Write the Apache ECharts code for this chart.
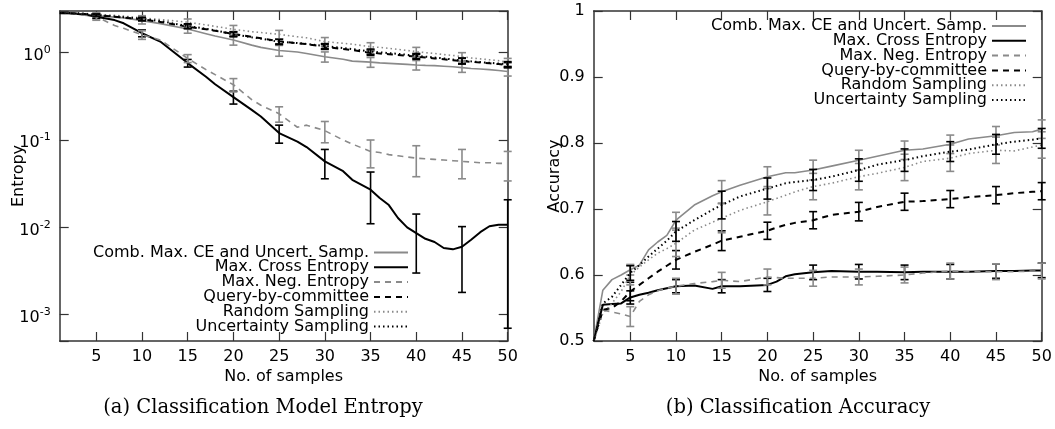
<!DOCTYPE html>
<html><head><meta charset="utf-8">
<script src="https://cdn.jsdelivr.net/npm/echarts@6/dist/echarts.min.js"></script>
<style>html,body{margin:0;padding:0;background:#fff}#c{width:1055px;height:429px}</style>
</head><body><div id="c"></div>
<script>
const NAMES = ['Comb. Max. CE and Uncert. Samp.', 'Max. Cross Entropy', 'Max. Neg. Entropy', 'Query-by-committee', 'Random Sampling', 'Uncertainty Sampling'];

// (a) Entropy
const ENT_X    = [1,2,3,4,5,7,8,10,12,15,17,18,20,22,23,25,27,28,30,32,33,35,36,37,38,39,40,41,42,43,44,45,46,47,48,49,50];
const ENT_COMB = [2.83,2.82,2.79,2.72,2.65,2.55,2.5,2.33,2.15,1.87,1.65,1.55,1.4,1.22,1.15,1.06,1.02,0.98,0.9,0.84,0.8,0.78,0.765,0.755,0.745,0.735,0.723,0.715,0.71,0.70,0.69,0.675,0.66,0.65,0.64,0.625,0.61];
const ENT_MCE  = [2.83,2.82,2.77,2.70,2.58,2.36,2.17,1.67,1.34,0.76,0.53,0.435,0.31,0.221,0.186,0.12,0.096,0.083,0.057,0.044,0.035,0.027,0.0217,0.018,0.0128,0.010,0.0086,0.0074,0.0068,0.0058,0.0056,0.006,0.0072,0.0088,0.0103,0.0107,0.0107];
const ENT_MNE  = [2.83,2.8,2.74,2.66,2.58,2.05,1.9,1.6,1.4,0.86,0.64,0.56,0.43,0.29,0.25,0.2,0.14,0.148,0.128,0.1,0.09,0.074,0.072,0.068,0.066,0.064,0.062,0.061,0.06,0.059,0.058,0.057,0.056,0.055,0.055,0.054,0.054];
const ENT_QBC  = [2.85,2.84,2.81,2.75,2.68,2.58,2.52,2.41,2.25,1.98,1.85,1.78,1.64,1.52,1.46,1.35,1.28,1.25,1.17,1.1,1.07,1.0,0.98,0.96,0.94,0.92,0.9,0.88,0.86,0.84,0.82,0.8,0.785,0.77,0.755,0.74,0.72];
const ENT_RAND = [2.87,2.86,2.84,2.8,2.75,2.68,2.62,2.5,2.4,2.23,2.08,2.0,1.85,1.74,1.7,1.62,1.52,1.48,1.34,1.28,1.25,1.17,1.15,1.12,1.09,1.06,1.03,1.0,0.98,0.95,0.93,0.9,0.87,0.85,0.83,0.81,0.78];
const ENT_UNC  = [2.85,2.84,2.82,2.77,2.7,2.6,2.55,2.44,2.3,2.02,1.88,1.8,1.62,1.5,1.45,1.33,1.29,1.26,1.19,1.13,1.1,1.03,1.01,0.99,0.97,0.945,0.92,0.9,0.88,0.86,0.835,0.81,0.795,0.78,0.765,0.75,0.74];
const ERR_X = [5,10,15,20,25,30,35,40,45,50];
const ENT_COMB_ERR = [0.15,0.2,0.2,0.18,0.15,0.12,0.1,0.09,0.08,0.07];
const ENT_MCE_ERR  = [0.12,0.15,0.076,0.052,0.028,0.021,0.016,0.0056,0.0042,0.01];
const ENT_MNE_ERR  = [0.23,0.18,0.09,0.075,0.04,0.035,0.026,0.024,0.021,0.02];
const ENT_QBC_ERR  = [0.08,0.1,0.1,0.1,0.09,0.08,0.07,0.06,0.06,0.05];
const ENT_RAND_ERR = [0.12,0.15,0.2,0.2,0.18,0.15,0.13,0.12,0.1,0.08];
const ENT_UNC_ERR  = [0.08,0.1,0.12,0.1,0.09,0.08,0.07,0.06,0.06,0.05];

// (b) Accuracy
const ACC_X    = [1,2,3,4,5,6,7,8,9,10,12,14,15,17,20,21,22,23,25,27,30,32,35,37,40,42,45,47,49,50];
const ACC_COMB = [0.5,0.577,0.593,0.600,0.608,0.615,0.638,0.650,0.660,0.683,0.706,0.720,0.726,0.736,0.749,0.752,0.755,0.755,0.759,0.765,0.774,0.780,0.789,0.791,0.798,0.806,0.811,0.816,0.817,0.821];
const ACC_MCE  = [0.5,0.555,0.556,0.557,0.566,0.570,0.573,0.577,0.580,0.583,0.584,0.579,0.583,0.583,0.585,0.590,0.598,0.601,0.604,0.606,0.605,0.605,0.604,0.605,0.605,0.605,0.606,0.606,0.607,0.607];
const ACC_MNE  = [0.5,0.547,0.544,0.541,0.537,0.560,0.570,0.576,0.580,0.583,0.587,0.590,0.592,0.590,0.597,0.596,0.595,0.595,0.595,0.597,0.597,0.598,0.600,0.603,0.606,0.605,0.605,0.605,0.606,0.606];
const ACC_QBC  = [0.5,0.547,0.550,0.560,0.575,0.585,0.595,0.605,0.614,0.623,0.635,0.646,0.652,0.658,0.667,0.672,0.676,0.679,0.683,0.691,0.696,0.703,0.711,0.712,0.715,0.718,0.721,0.724,0.726,0.727];
const ACC_RAND = [0.5,0.542,0.557,0.575,0.600,0.612,0.623,0.633,0.640,0.648,0.668,0.680,0.686,0.698,0.711,0.716,0.721,0.726,0.734,0.739,0.749,0.754,0.763,0.772,0.777,0.784,0.789,0.788,0.794,0.797];
const ACC_UNC  = [0.5,0.557,0.567,0.585,0.603,0.615,0.628,0.640,0.652,0.666,0.683,0.699,0.706,0.719,0.731,0.735,0.739,0.741,0.744,0.749,0.759,0.767,0.774,0.780,0.787,0.790,0.798,0.802,0.805,0.807];
const ACC_COMB_ERR = [0.008,0.012,0.017,0.015,0.015,0.015,0.014,0.014,0.014,0.014];
const ACC_MCE_ERR  = [0.01,0.01,0.01,0.01,0.011,0.011,0.011,0.011,0.011,0.011];
const ACC_MNE_ERR  = [0.015,0.012,0.012,0.012,0.012,0.012,0.012,0.012,0.012,0.012];
const ACC_QBC_ERR  = [0.014,0.014,0.015,0.013,0.013,0.014,0.013,0.013,0.013,0.013];
const ACC_RAND_ERR = [0.015,0.02,0.022,0.02,0.02,0.02,0.02,0.02,0.02,0.02];
const ACC_UNC_ERR  = [0.011,0.015,0.021,0.016,0.016,0.017,0.017,0.015,0.015,0.015];

const X_TICKS = [5,10,15,20,25,30,35,40,45,50];
const CAPTIONS = ['(a) Classification Model Entropy', '(b) Classification Accuracy'];
const Y_NAMES = ['Entropy', 'Accuracy'];
const X_NAME = 'No. of samples';

const GREY = '#8a8a8a', BLACK = '#000';
const STYLES = [
  {color: GREY, type: 'solid', width: 1.6},
  {color: BLACK, type: 'solid', width: 2},
  {color: GREY, type: [6, 5], width: 1.6},
  {color: BLACK, type: [6, 5], width: 2},
  {color: GREY, type: [1.5, 3], width: 1.6},
  {color: BLACK, type: [1.5, 3], width: 2}
];

const CHARTS = [
  {x: ENT_X, vals: [ENT_COMB, ENT_MCE, ENT_MNE, ENT_QBC, ENT_RAND, ENT_UNC],
   errs: [ENT_COMB_ERR, ENT_MCE_ERR, ENT_MNE_ERR, ENT_QBC_ERR, ENT_RAND_ERR, ENT_UNC_ERR]},
  {x: ACC_X, vals: [ACC_COMB, ACC_MCE, ACC_MNE, ACC_QBC, ACC_RAND, ACC_UNC],
   errs: [ACC_COMB_ERR, ACC_MCE_ERR, ACC_MNE_ERR, ACC_QBC_ERR, ACC_RAND_ERR, ACC_UNC_ERR]}
];

const FONT = 'DejaVu Sans';
const AXC = '#333';

function errRender(color, width) {
  return function (params, api) {
    const x = api.value(0), y = api.value(1), e = api.value(2);
    const lo = Math.max(y - e, 1e-4);
    const p1 = api.coord([x, y + e]), p2 = api.coord([x, lo]);
    const hw = 4;
    const st = {stroke: color, lineWidth: width};
    return {type: 'group', children: [
      {type: 'line', shape: {x1: p1[0], y1: p1[1], x2: p2[0], y2: p2[1]}, style: st},
      {type: 'line', shape: {x1: p1[0] - hw, y1: p1[1], x2: p1[0] + hw, y2: p1[1]}, style: st},
      {type: 'line', shape: {x1: p2[0] - hw, y1: p2[1], x2: p2[0] + hw, y2: p2[1]}, style: st}
    ]};
  };
}

const series = [];
CHARTS.forEach((c, ci) => {
  c.vals.forEach((v, si) => {
    const s = STYLES[si];
    series.push({
      name: NAMES[si], type: 'line', xAxisIndex: ci * 2, yAxisIndex: ci * 2,
      data: c.x.map((xx, i) => [xx, v[i]]), symbol: 'none', showSymbol: false,
      lineStyle: {color: s.color, width: s.width, type: s.type, cap: 'butt'},
      itemStyle: {color: s.color}, animation: false, z: 2 + si
    });
    series.push({
      name: NAMES[si] + ' err', type: 'custom', xAxisIndex: ci * 2, yAxisIndex: ci * 2,
      data: ERR_X.map((xx, i) => [xx, v[c.x.indexOf(xx)], c.errs[si][i]]),
      encode: {x: 0, y: 1}, renderItem: errRender(s.color, 1.6), animation: false, z: 2 + si, silent: true
    });
  });
});

const grids = [
  {left: 59.7, top: 11, width: 448, height: 330, outerBoundsMode: 'none', containLabel: false},
  {left: 593.7, top: 11, width: 448, height: 330, outerBoundsMode: 'none', containLabel: false}
];

const tickCommon = {inside: true, length: 9, lineStyle: {color: AXC, width: 1.2}};
const lineCommon = {show: true, onZero: false, lineStyle: {color: AXC, width: 1.5}};
const labelText = {color: '#000', fontSize: 16, fontFamily: FONT};

const xAxes = [];
[0, 1].forEach(gi => {
  xAxes.push({type: 'value', gridIndex: gi, min: 1, max: 50, position: 'bottom',
    axisLine: lineCommon, splitLine: {show: false},
    axisTick: Object.assign({customValues: X_TICKS}, tickCommon),
    axisLabel: Object.assign({customValues: X_TICKS, margin: 8}, labelText),
    name: X_NAME, nameLocation: 'middle', nameGap: 28, nameMoveOverlap: false, nameTextStyle: labelText});
  xAxes.push({type: 'value', gridIndex: gi, min: 1, max: 50, position: 'top',
    axisLine: lineCommon, splitLine: {show: false},
    axisTick: Object.assign({customValues: X_TICKS}, tickCommon),
    axisLabel: {show: false}});
});

const logFmt = v => {
  const e = Math.log10(v), r = Math.round(e);
  if (Math.abs(e - r) > 1e-6) return '';
  return '{b|10}{s|' + r + '}';
};

const yAxes = [
  {type: 'log', logBase: 10, gridIndex: 0, min: 0.0005, max: 3, position: 'left',
   axisLine: lineCommon, splitLine: {show: false}, minorTick: {show: false},
   axisTick: tickCommon,
   axisLabel: {formatter: logFmt, margin: 9, showMinLabel: true, showMaxLabel: true,
     rich: {b: {fontSize: 16, fontFamily: FONT, color: '#000', lineHeight: 16, padding: [6, 0, 0, 0]},
            s: {fontSize: 11, fontFamily: FONT, color: '#000', lineHeight: 11, verticalAlign: 'top'}}},
   name: Y_NAMES[0], nameLocation: 'middle', nameGap: 33, nameMoveOverlap: false, nameTextStyle: labelText},
  {type: 'log', logBase: 10, gridIndex: 0, min: 0.0005, max: 3, position: 'right',
   axisLine: lineCommon, splitLine: {show: false}, minorTick: {show: false},
   axisTick: tickCommon, axisLabel: {show: false}},
  {type: 'value', gridIndex: 1, min: 0.5, max: 1, interval: 0.1, position: 'left',
   axisLine: lineCommon, splitLine: {show: false},
   axisTick: tickCommon,
   axisLabel: Object.assign({margin: 9}, labelText),
   name: Y_NAMES[1], nameLocation: 'middle', nameGap: 31, nameMoveOverlap: false, nameTextStyle: labelText},
  {type: 'value', gridIndex: 1, min: 0.5, max: 1, interval: 0.1, position: 'right',
   axisLine: lineCommon, splitLine: {show: false},
   axisTick: tickCommon, axisLabel: {show: false}}
];

const legendCommon = {
  data: NAMES, orient: 'vertical', align: 'right', itemWidth: 34, itemHeight: 10, itemGap: -1.2,
  padding: 0, selectedMode: false, itemStyle: {opacity: 0},
  textStyle: {fontSize: 16, fontFamily: FONT, color: '#000'}
};

const option = {
  backgroundColor: '#fff',
  animation: false,
  grid: grids,
  xAxis: xAxes,
  yAxis: yAxes,
  legend: [
    Object.assign({right: 646, top: 244.5}, legendCommon),
    Object.assign({right: 28, top: 18}, legendCommon)
  ],
  graphic: [
    {type: 'text', x: 263, y: 408, style: {text: CAPTIONS[0], font: '19.5px "DejaVu Serif"', fill: '#000', align: 'center', verticalAlign: 'middle'}},
    {type: 'text', x: 798, y: 408, style: {text: CAPTIONS[1], font: '19.5px "DejaVu Serif"', fill: '#000', align: 'center', verticalAlign: 'middle'}}
  ],
  series: series
};

const chart = echarts.init(document.getElementById('c'), null, {renderer: 'canvas'});
chart.setOption(option);
</script>
</body></html>
